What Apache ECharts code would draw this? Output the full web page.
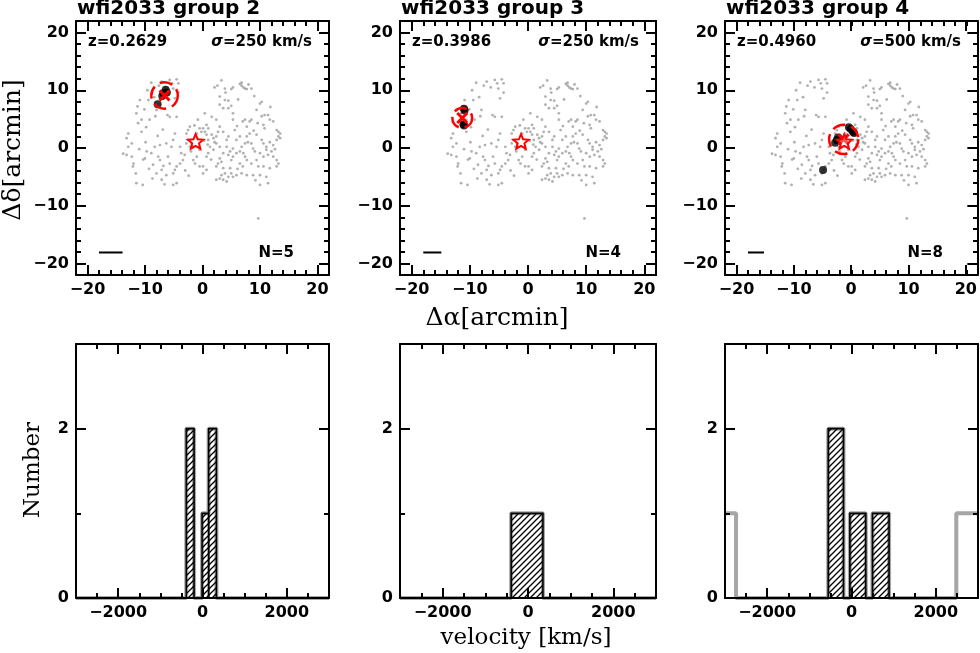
<!DOCTYPE html>
<html><head><meta charset="utf-8">
<script src="https://cdn.jsdelivr.net/npm/echarts@6/dist/echarts.min.js"></script>
<style>html,body{margin:0;padding:0;background:#fff}#c{width:980px;height:653px}</style>
</head><body><div id="c"></div>
<script>
// ---------------- DATA ----------------
const groupNames = ['wfi2033 group 2', 'wfi2033 group 3', 'wfi2033 group 4'];
const redshifts = ['0.2629', '0.3986', '0.4960'];
const sigmas = [250, 250, 500];
const memberCounts = [5, 4, 8];

// field galaxies (arcmin), same in every panel
const fieldGalaxies = [
[-8.9,11.3],[-7.1,11.5],[-5.7,11.8],[-4.5,11.9],[-4.2,11.2],[-5.1,10.3],[-6.4,10.5],[-4.8,8.6],[-4.2,9.6],
[-6.1,5.7],[-5.7,5.4],[-4.5,5.4],[-8.0,6.6],[-9.4,8.3],[-10.9,8.3],[-11.3,7.2],[-11.5,6.0],[-10.6,4.9],
[-11.2,4.3],[-9.2,4.9],[-10.6,2.8],[-12.9,2.5],[-13.2,1.7],[-12.3,0.8],[-12.9,0.2],[-13.8,-1.0],[-13.2,-1.2],
[-12.3,-1.5],[-12.0,-2.7],[-12.1,-3.2],[-11.5,-6.1],[-10.4,-6.4],[-10.0,-1.8],[-10.3,-2.0],[-9.7,-0.6],
[-8.9,-0.9],[-8.3,0.2],[-7.4,0.5],[-7.7,-1.5],[-7.4,-2.1],[-8.6,-2.9],[-8.0,-4.4],[-7.1,-3.8],[-6.3,-4.7],
[-7.1,-5.5],[-5.1,-4.4],[-4.8,-3.8],[-5.1,-6.4],[-4.5,-6.1],[-5.7,-2.7],[-6.0,-1.5],[-5.4,0.2],[-5.1,1.4],
[-4.8,2.5],[-6.3,0.8],[-3.9,0.2],[-3.7,-0.9],[-3.1,-1.2],[-3.4,-2.1],[-3.9,-2.7],[-4.5,-3.2],[-2.8,2.5],
[-2.5,3.1],[-2.2,3.7],[-2.5,1.4],[-1.9,0.8],[-1.0,2.5],[-0.5,3.4],[-0.8,4.9],[-0.2,2.8],[0.1,3.4],[0.4,2.8],
[0.7,2.3],[1.0,1.4],[1.3,0.2],[1.6,2.3],[1.9,1.7],[2.1,1.0],[2.4,2.0],[1.9,-0.3],[1.0,-0.9],[0.7,-1.5],
[-0.5,-0.3],[-1.0,-1.5],[-0.5,-3.2],[-1.3,-2.7],[-1.6,-2.1],[0.1,-3.2],[0.7,-3.8],[0.1,-4.4],[-2.2,0.2],
[-2.8,0.8],[-9.6,10.0],[-8.2,5.5],[-6.9,3.2],[-9.9,1.0],[-11.0,-0.2],[-8.7,-5.3],[-6.6,-6.3],[-2.4,-4.8],
[-1.7,0.3],[-0.9,1.6],[0.3,1.3],[0.9,0.6],[-1.4,3.9],[-7.6,10.8],[-5.3,11.2],[-8.4,8.8],[-10.1,6.7],
[-9.8,3.6],[-7.8,2.1],[-11.6,-4.4],[-9.3,-3.6],[-6.8,-3.1],[-3.0,-3.9],[-2.0,-0.6],
[2.1,10.5],[2.6,10.8],[3.3,11.7],[3.9,10.3],[5.0,10.2],[5.3,10.5],[6.5,11.1],[6.8,10.8],[7.1,10.5],[7.4,10.3],
[7.7,10.2],[8.5,10.3],[6.8,11.3],[3.0,8.9],[3.9,8.3],[4.5,8.2],[3.6,6.9],[4.5,6.9],[5.0,7.3],[3.0,7.5],
[5.3,6.0],[7.0,4.6],[7.4,4.9],[7.7,3.7],[8.2,4.6],[8.5,4.9],[10.0,7.7],[10.3,8.0],[9.4,6.6],[10.3,5.5],
[10.8,5.7],[11.4,5.7],[11.7,4.9],[12.3,4.6],[10.6,4.0],[10.8,3.4],[12.9,3.1],[13.2,2.8],[13.5,2.5],[13.2,2.0],
[13.5,1.7],[12.9,1.4],[12.3,0.5],[11.1,-0.3],[11.4,-1.2],[12.3,-1.5],[12.9,-2.1],[13.2,-2.7],[12.9,-3.2],
[11.7,-3.5],[10.6,-3.2],[9.7,-3.2],[10.0,-4.7],[11.1,-5.0],[11.4,-6.1],[10.0,-6.4],[8.8,-4.7],[7.7,-4.7],
[6.8,-4.4],[5.9,-4.7],[5.0,-4.4],[4.5,-5.0],[3.9,-4.4],[3.3,-4.7],[2.4,-5.5],[3.0,-5.3],[3.6,-5.5],[4.2,-5.8],
[5.3,-5.0],[4.8,-3.5],[5.0,-2.1],[5.3,-1.5],[5.9,-0.9],[6.5,-0.6],[7.1,-0.9],[7.4,-1.5],[7.7,-2.1],[6.8,0.2],
[7.4,0.8],[7.9,1.0],[8.5,0.8],[8.8,-0.1],[9.1,-0.6],[10.0,-0.9],[10.6,-1.5],[9.4,-2.1],[8.5,-2.7],[6.5,-2.7],
[4.5,-1.2],[3.6,-0.9],[3.0,-1.8],[2.7,-2.7],[2.4,-3.2],[3.6,-3.5],[4.5,2.0],[4.2,1.4],[3.6,2.8],[3.0,3.7],
[2.7,2.8],[2.4,0.8],[3.0,0.2],[4.2,0.2],[4.8,-0.6],[5.3,-0.1],[5.9,1.4],[6.5,2.0],[5.6,3.1],[7.7,2.0],
[8.2,2.5],[9.4,2.3],[10.3,1.4],[10.6,0.8],[11.1,0.2],[11.7,1.0],[5.3,4.9],[2.4,4.9],[1.6,5.4],[0.4,6.0],
[0.7,4.0],[1.0,3.4],[9.0,9.0],[11.8,7.1],[6.2,8.4],[8.9,3.0],[12.0,-0.6],[6.1,-3.6],[9.2,-5.6],
[4.0,9.6],[8.0,11.0],[9.6,4.3],[12.6,-0.2],[7.0,-3.2],[3.3,-2.4],[6.0,3.8],[1.5,-2.0],
[9.7,-12.2]
];

const members = [
  [[-6.4,10.1],[-6.2,9.6],[-7.0,9.0],[-6.8,9.5],[-7.8,7.6]],
  [[-11.0,6.8],[-10.9,6.5],[-11.0,3.9],[-11.1,4.1]],
  [[-0.4,3.6],[-0.1,3.3],[0.3,2.8],[0.5,2.6],[-2.3,1.8],[-2.5,1.4],[-2.8,0.9],[-4.9,-3.8]]
];
const groupCenters = [[-6.6, 9.1], [-11.3, 5.2], [-1.3, 1.5]];
const circleRadii = [2.3, 1.7, 2.55];
const lensPos = [-1.2, 1.0];
const scaleBarStart = -18.0;
const scaleBarY = -18.1;
const scaleBarLen = [4.1, 3.1, 2.8];

// histograms: [start, end, count]
const memberBins = [
  [[-385, -200, 2], [-10, 145, 1], [145, 330, 2]],
  [[-395, 350, 1]],
  [[-552, -189, 2], [-39, 339, 1], [497, 891, 1]]
];
const allEdges = [
  [-3000, -385, -200, -10, 145, 330, 3000],
  [-3000, -395, 350, 3000],
  [-3000, -2738, -552, -189, -39, 339, 497, 891, 2485, 3000]
];
const allCounts = [
  [0, 2, 0, 1, 2, 0],
  [0, 1, 0],
  [1, 0, 2, 0, 1, 0, 1, 0, 1]
];

// ticks
const posRange = [-22, 22];
const posMajorTicks = [-20, -10, 0, 10, 20];
const posMinorTicks = [-20, -18, -16, -14, -12, -10, -8, -6, -4, -2, 0, 2, 4, 6, 8, 10, 12, 14, 16, 18, 20];
const velRange = [-3000, 3000];
const velMajorTicks = [-2000, 0, 2000];
const velMinorTicks = [-2500, -1500, -1000, -500, 500, 1000, 1500, 2500];
const numRange = [0, 3];
const numMajorTicks = [0, 2];
const numMinorTicks = [1];

// ---------------- LAYOUT ----------------
const colLeft = [76, 400, 725];
const colWidth = [253, 256, 253];
const rowTop = [21, 344];
const rowHeight = 254;

const chart = echarts.init(document.getElementById('c'), null, {renderer: 'canvas'});

// hatch pattern
const hatch = document.createElement('canvas');
hatch.width = 6; hatch.height = 6;
(function () {
  const g = hatch.getContext('2d');
  g.strokeStyle = '#000'; g.lineWidth = 1.3;
  g.beginPath();
  g.moveTo(-1, 7); g.lineTo(7, -1);
  g.moveTo(-4, 4); g.lineTo(4, -4);
  g.moveTo(2, 10); g.lineTo(10, 2);
  g.stroke();
})();

const grids = [], xAxes = [], yAxes = [], series = [];
const minus = v => String(v).replace('-', '\u2212');

function axis(gridIndex, position, range, ticks, len, labels, showLine) {
  return {
    type: 'value', gridIndex, position, min: range[0], max: range[1], z: 5,
    axisLine: {show: showLine, onZero: false, lineStyle: {color: '#000', width: 2}},
    axisTick: {show: true, inside: true, length: len, customValues: ticks, lineStyle: {color: '#000', width: 2}},
    axisLabel: labels ? {show: true, customValues: labels, margin: 7, color: '#000',
      fontFamily: 'DejaVu Sans', fontWeight: 'bold', fontSize: 16, formatter: minus} : {show: false},
    splitLine: {show: false}, minorTick: {show: false}
  };
}

const panelAxes = []; // per panel: [xIndex, yIndex]
for (let r = 0; r < 2; r++) {
  for (let c = 0; c < 3; c++) {
    const xr = r === 0 ? posRange : velRange;
    const yr = r === 0 ? posRange : numRange;
    const xMaj = r === 0 ? posMajorTicks : velMajorTicks;
    const xMin = r === 0 ? posMinorTicks : velMinorTicks;
    const yMaj = r === 0 ? posMajorTicks : numMajorTicks;
    const yMin = r === 0 ? posMinorTicks : numMinorTicks;
    const rect = {left: colLeft[c], top: rowTop[r], width: colWidth[c], height: rowHeight};
    const gMain = grids.length;
    grids.push(Object.assign({containLabel: false}, rect));
    const xi = xAxes.length, yi = yAxes.length;
    xAxes.push(axis(gMain, 'bottom', xr, xMaj, 10, xMaj, true));
    xAxes.push(axis(gMain, 'top', xr, xMaj, 10, null, true));
    yAxes.push(axis(gMain, 'left', yr, yMaj, 10, yMaj, true));
    yAxes.push(axis(gMain, 'right', yr, yMaj, 10, null, true));
    const gMin = grids.length;
    grids.push(Object.assign({containLabel: false}, rect));
    xAxes.push(axis(gMin, 'bottom', xr, xMin, 5, null, false));
    xAxes.push(axis(gMin, 'top', xr, xMin, 5, null, false));
    yAxes.push(axis(gMin, 'left', yr, yMin, 5, null, false));
    yAxes.push(axis(gMin, 'right', yr, yMin, 5, null, false));
    panelAxes.push([xi, yi]);
  }
}

// scatter panels
for (let c = 0; c < 3; c++) {
  const [xi, yi] = panelAxes[c];
  series.push({type: 'scatter', xAxisIndex: xi, yAxisIndex: yi, data: fieldGalaxies,
    symbol: 'circle', symbolSize: 2.8, itemStyle: {color: '#9e9e9e'}, silent: true, z: 2});
  series.push({type: 'scatter', xAxisIndex: xi, yAxisIndex: yi, data: members[c],
    symbol: 'circle', symbolSize: 8, itemStyle: {color: '#000'}, silent: true, z: 3});
  series.push({type: 'custom', xAxisIndex: xi, yAxisIndex: yi, z: 4, silent: true,
    data: [[groupCenters[c][0], groupCenters[c][1], circleRadii[c]]],
    renderItem: (params, api) => {
      const p = api.coord([api.value(0), api.value(1)]);
      const rad = api.size([api.value(2), 0])[0];
      const h = 5;
      return {type: 'group', children: [
        {type: 'circle', shape: {cx: p[0], cy: p[1], r: rad},
          style: {fill: 'none', stroke: '#ff0000', lineWidth: 2.5, lineDash: [13, 6]}},
        {type: 'line', shape: {x1: p[0] - h, y1: p[1] - h, x2: p[0] + h, y2: p[1] + h},
          style: {stroke: '#ff0000', lineWidth: 3}},
        {type: 'line', shape: {x1: p[0] - h, y1: p[1] + h, x2: p[0] + h, y2: p[1] - h},
          style: {stroke: '#ff0000', lineWidth: 3}}
      ]};
    }});
  series.push({type: 'custom', xAxisIndex: xi, yAxisIndex: yi, z: 5, silent: true,
    data: [lensPos],
    renderItem: (params, api) => {
      const p = api.coord([api.value(0), api.value(1)]);
      const pts = [];
      for (let k = 0; k < 10; k++) {
        const a = -Math.PI / 2 + k * Math.PI / 5;
        const rr = k % 2 === 0 ? 8 : 3.6;
        pts.push([p[0] + rr * Math.cos(a), p[1] + rr * Math.sin(a)]);
      }
      return {type: 'polygon', shape: {points: pts},
        style: {fill: 'rgba(255,255,255,0.35)', stroke: '#ff0000', lineWidth: 2}};
    }});
  series.push({type: 'custom', xAxisIndex: xi, yAxisIndex: yi, z: 4, silent: true,
    data: [[scaleBarStart, scaleBarY, scaleBarLen[c]]],
    renderItem: (params, api) => {
      const a = api.coord([api.value(0), api.value(1)]);
      const b = api.coord([api.value(0) + api.value(2), api.value(1)]);
      return {type: 'line', shape: {x1: a[0], y1: a[1], x2: b[0], y2: b[1]},
        style: {stroke: '#000', lineWidth: 2}};
    }});
}

// histogram panels
for (let c = 0; c < 3; c++) {
  const [xi, yi] = panelAxes[3 + c];
  const step = [];
  for (let i = 0; i < allCounts[c].length; i++) {
    step.push([allEdges[c][i], allCounts[c][i]]);
    step.push([allEdges[c][i + 1], allCounts[c][i]]);
  }
  series.push({type: 'line', xAxisIndex: xi, yAxisIndex: yi, data: step, symbol: 'none',
    lineStyle: {color: '#a6a6a6', width: 4}, silent: true, z: 2, animation: false});
  series.push({type: 'custom', xAxisIndex: xi, yAxisIndex: yi, data: memberBins[c], z: 3, silent: true,
    renderItem: (params, api) => {
      const p0 = api.coord([api.value(0), api.value(2)]);
      const p1 = api.coord([api.value(1), 0]);
      return {type: 'rect', shape: {x: p0[0], y: p0[1], width: p1[0] - p0[0], height: p1[1] - p0[1]},
        style: {fill: {image: hatch, repeat: 'repeat'}, stroke: '#000', lineWidth: 1.6}};
    }});
}

// texts
const graphics = [];
const boldSans = (s) => 'bold ' + s + 'px "DejaVu Sans"';
for (let c = 0; c < 3; c++) {
  const L = colLeft[c], R = colLeft[c] + colWidth[c];
  graphics.push({type: 'text', x: L + 1, y: 9, style: {text: groupNames[c], font: boldSans(20),
    fill: '#000', align: 'left', verticalAlign: 'middle'}});
  graphics.push({type: 'text', x: L + 12, y: 42, style: {text: 'z=' + redshifts[c], font: boldSans(15),
    fill: '#000', align: 'left', verticalAlign: 'middle'}});
  graphics.push({type: 'text', x: R - 17, y: 42, style: {
    text: '{s|\u03c3}{b|=' + sigmas[c] + ' km/s}', align: 'right', verticalAlign: 'middle',
    rich: {s: {font: 'bold italic 15px "DejaVu Sans"', fill: '#000'}, b: {font: boldSans(15), fill: '#000'}}}});
  graphics.push({type: 'text', x: R - 35, y: 253, style: {text: 'N=' + memberCounts[c], font: boldSans(15),
    fill: '#000', align: 'right', verticalAlign: 'middle'}});
}
const serifBig = '25px "DejaVu Serif"';
const serif = '23px "DejaVu Serif"';
graphics.push({type: 'text', x: 13, y: 150, rotation: Math.PI / 2, style: {text: '\u0394\u03b4[arcmin]',
  font: serifBig, fill: '#000', align: 'center', verticalAlign: 'middle'}});
graphics.push({type: 'text', x: 497, y: 318, style: {text: '\u0394\u03b1[arcmin]',
  font: serifBig, fill: '#000', align: 'center', verticalAlign: 'middle'}});
graphics.push({type: 'text', x: 33, y: 470, rotation: Math.PI / 2, style: {text: 'Number',
  font: serif, fill: '#000', align: 'center', verticalAlign: 'middle'}});
graphics.push({type: 'text', x: 526, y: 638, style: {text: 'velocity [km/s]',
  font: serif, fill: '#000', align: 'center', verticalAlign: 'middle'}});

chart.setOption({
  animation: false,
  backgroundColor: '#fff',
  grid: grids,
  xAxis: xAxes,
  yAxis: yAxes,
  series: series,
  graphic: graphics
});
</script></body></html>
